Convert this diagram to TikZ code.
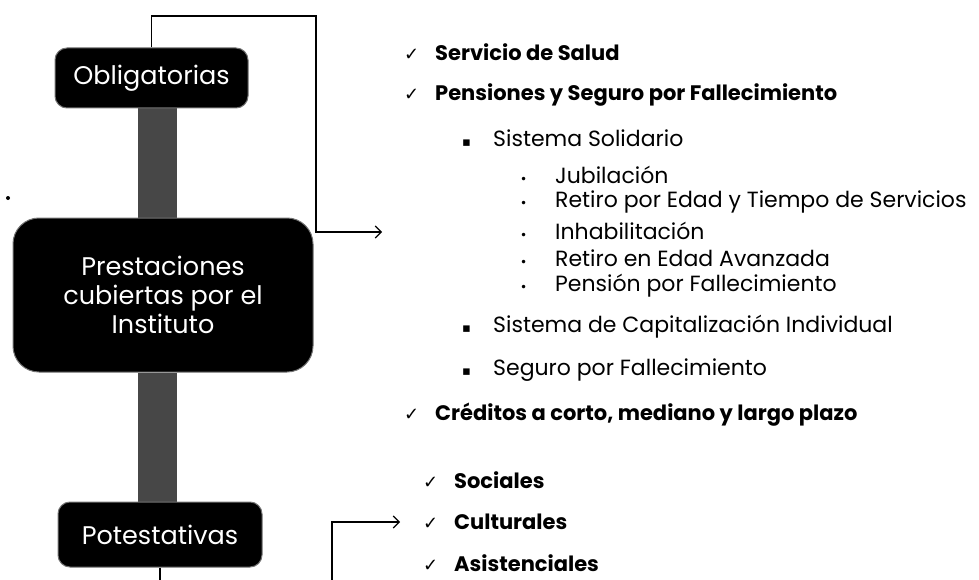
\documentclass[tikz,border=0pt]{standalone}
\usepackage{fontspec}
\setmainfont{Poppins}
\newfontfamily\symf{DejaVu Sans}
\usetikzlibrary{arrows.meta,backgrounds}
\newcommand{\chk}{\makebox[31pt][l]{\symf\mdseries\fontsize{18}{18}\selectfont ✓}}
\newcommand{\sq}{\makebox[31pt][l]{\symf\fontsize{13}{13}\selectfont ▪}}
\newcommand{\dt}{\makebox[35pt][l]{\symf\fontsize{12}{12}\selectfont •}}

\begin{document}
\begin{tikzpicture}[x=1pt,y=-1pt,
    box/.style={fill=black,draw=black!55,line width=1pt,rounded corners=12pt,
                text=white,align=center,inner sep=0pt,font=\fontsize{25.5}{29}\selectfont},
    bar/.style={draw=black!72,line width=39pt},
    link/.style={draw,line width=1.1pt,-{Straight Barb[length=6pt,width=12pt]}},
    itm/.style={anchor=west,inner sep=0pt,font=\fontsize{22}{24}\selectfont},
    bitm/.style={itm,font=\fontsize{21}{24}\selectfont\bfseries}]
  \clip (0,0) rectangle (979,580);

  \node[box,minimum width=193pt,minimum height=60pt] (obl) at (151.5,78) {Obligatorias};
  \node[box,minimum width=300pt,minimum height=154pt,rounded corners=26pt]
      (prest) at (163,295) {Prestaciones\\cubiertas por el\\Instituto};
  \node[box,minimum width=204pt,minimum height=65pt] (pot) at (160,534.5) {Potestativas};

  \begin{scope}[on background layer]
    \draw[bar] ([xshift=6pt]obl.south) -- ([xshift=6pt]obl.south |- prest.north);
    \draw[bar] ([xshift=-2.5pt]pot.north) -- ([xshift=-2.5pt]pot.north |- prest.south);
  \end{scope}

  \fill (8,198) circle (2pt);

  \node[bitm] (srv) at (404,52) {\chk Servicio de Salud};
  \node[bitm] (pen) at (404,95) {\chk Pensiones y Seguro por Fallecimiento};
  \node[itm] (sol) at (462,138) {\sq Sistema Solidario};
  \node[itm] (jub) at (520,175) {\dt Jubilación};
  \node[itm] (ret) at (520,202) {\dt Retiro por Edad y Tiempo de Servicios};
  \node[itm] (inh) at (520,231) {\dt Inhabilitación};
  \node[itm] (ava) at (520,258) {\dt Retiro en Edad Avanzada};
  \node[itm] (pfa) at (520,286) {\dt Pensión por Fallecimiento};
  \node[itm] (cap) at (462,327) {\sq Sistema de Capitalización Individual};
  \node[itm] (seg) at (462,370) {\sq Seguro por Fallecimiento};
  \node[bitm] (cre) at (404,415) {\chk Créditos a corto, mediano y largo plazo};
  \node[bitm] (soc) at (423,480) {\chk Sociales};
  \node[bitm] (cul) at (423,522) {\chk Culturales};
  \node[bitm] (asi) at (423,563) {\chk Asistenciales};

  \coordinate (t1) at (316,16);
  \coordinate (a1) at (382,232);
  \coordinate (b1) at (332,600);
  \coordinate (a2) at (400,522);
  \draw[link] (obl.north) |- (t1) |- (a1);
  \draw[link] (pot.south) |- (b1) |- (a2);
\end{tikzpicture}
\end{document}
